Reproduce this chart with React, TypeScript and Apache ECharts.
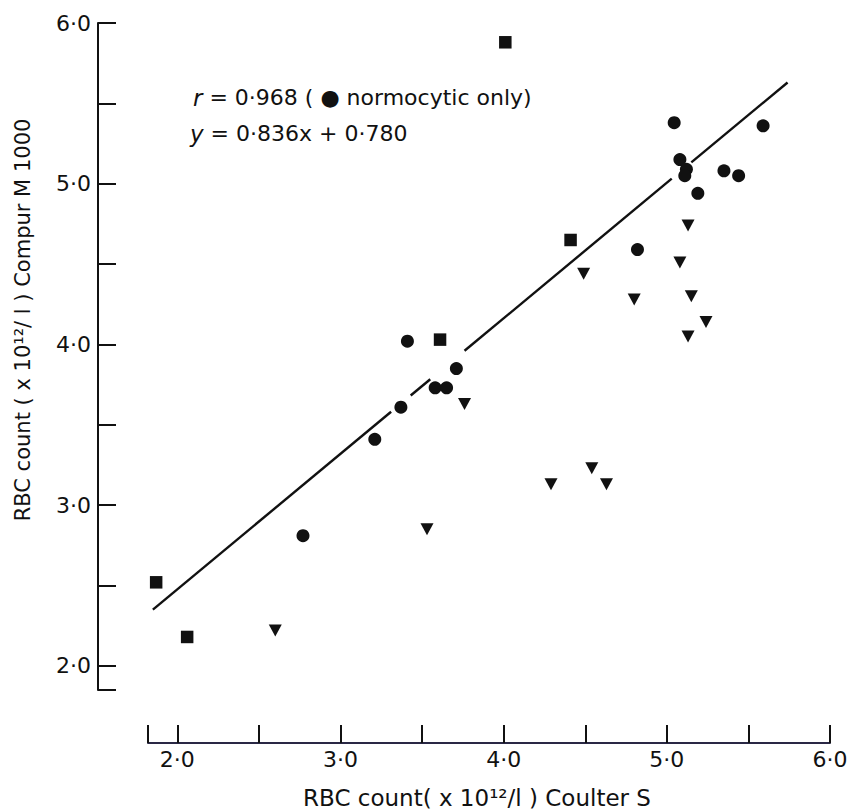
import React, { useEffect, useRef } from "react";
import * as echarts from "echarts";

// Axis ticks / labels (value units)
const xTickValues = [1.82, 2, 2.5, 3, 3.5, 4, 4.5, 5, 5.5, 6];
const yTickValues = [1.85, 2, 2.5, 3, 3.5, 4, 4.5, 5, 5.5, 6];
const xLabelValues = [2, 3, 4, 5, 6];
const yLabelValues = [2, 3, 4, 5, 6];

// Data points: [Coulter S, Compur M 1000]
const normocytic = [
  [2.77, 2.81],
  [3.21, 3.41],
  [3.37, 3.61],
  [3.41, 4.02],
  [3.58, 3.73],
  [3.65, 3.73],
  [3.71, 3.85],
  [4.82, 4.59],
  [5.045, 5.38],
  [5.08, 5.15],
  [5.12, 5.09],
  [5.11, 5.05],
  [5.19, 4.94],
  [5.35, 5.08],
  [5.44, 5.05],
  [5.59, 5.36],
];
const squares = [
  [1.87, 2.52],
  [2.06, 2.18],
  [3.61, 4.03],
  [4.01, 5.88],
  [4.41, 4.65],
];
const triangles = [
  [2.6, 2.22],
  [3.53, 2.85],
  [3.76, 3.63],
  [4.29, 3.13],
  [4.54, 3.23],
  [4.63, 3.13],
  [4.49, 4.44],
  [4.8, 4.28],
  [5.08, 4.51],
  [5.13, 4.74],
  [5.15, 4.3],
  [5.24, 4.14],
  [5.13, 4.05],
];

// Regression line as drawn (ends) and the drawn pieces (gaps at markers)
const fitLineEnds = [
  [1.85, 2.35],
  [5.74, 5.63],
];
const fitLinePieces = [
  [1.85, 3.31],
  [3.43, 3.55],
  [3.76, 5.03],
  [5.15, 5.74],
];

const FONT = "DejaVu Sans";
const INK = "#111111";

const fmt = (v: number) => v.toFixed(1).replace(".", "\u00b7");
const fitY = (x: number) => {
  const [[x0, y0], [x1, y1]] = fitLineEnds;
  return y0 + ((x - x0) * (y1 - y0)) / (x1 - x0);
};

export default function App() {
  const ref = useRef<HTMLDivElement>(null);
  useEffect(() => {
    document.body.style.margin = "0";
    const chart = echarts.init(ref.current!, null, { renderer: "svg" });
    const lineSeries = fitLinePieces.map((p) => ({
      type: "line",
      data: [
        [p[0], fitY(p[0])],
        [p[1], fitY(p[1])],
      ],
      symbol: "none",
      lineStyle: { color: INK, width: 2.4 },
      z: 1,
    }));
    chart.setOption({
      animation: false,
      backgroundColor: "#ffffff",
      grid: { left: 148, top: 23, width: 682, height: 667 },
      xAxis: {
        type: "value",
        min: 1.82,
        max: 6.0,
        position: "bottom",
        offset: 53,
        axisLine: { show: true, lineStyle: { color: "#2a2845", width: 2 } },
        axisTick: {
          show: true,
          inside: true,
          length: 18,
          customValues: xTickValues,
          lineStyle: { color: INK, width: 2 },
        },
        axisLabel: {
          customValues: xLabelValues,
          formatter: fmt,
          fontFamily: FONT,
          fontSize: 22,
          color: INK,
          margin: 5,
        },
        splitLine: { show: false },
      },
      yAxis: {
        type: "value",
        min: 1.85,
        max: 6.0,
        position: "left",
        offset: 50,
        axisLine: { show: true, lineStyle: { color: INK, width: 2 } },
        axisTick: {
          show: true,
          inside: true,
          length: 18,
          customValues: yTickValues,
          lineStyle: { color: INK, width: 2 },
        },
        axisLabel: {
          customValues: yLabelValues,
          formatter: fmt,
          fontFamily: FONT,
          fontSize: 22,
          color: INK,
          margin: 7,
        },
        splitLine: { show: false },
      },
      series: [
        ...lineSeries,
        {
          type: "scatter",
          data: normocytic,
          symbol: "circle",
          symbolSize: 13,
          itemStyle: { color: INK, opacity: 1 },
          z: 3,
        },
        {
          type: "scatter",
          data: squares,
          symbol: "rect",
          symbolSize: 12.5,
          itemStyle: { color: INK, opacity: 1 },
          z: 3,
        },
        {
          type: "scatter",
          data: triangles,
          symbol: "triangle",
          symbolRotate: 180,
          symbolSize: [13, 12],
          itemStyle: { color: INK, opacity: 1 },
          z: 3,
        },
      ],
      graphic: [
        {
          type: "text",
          left: 193,
          top: 86,
          style: {
            text: "{i|r} = 0\u00b7968 ( \u25cf normocytic only)",
            fontFamily: FONT,
            fontSize: 22,
            fill: INK,
            rich: { i: { fontStyle: "italic", fontFamily: FONT, fontSize: 23, fill: INK } },
          },
        },
        {
          type: "text",
          left: 190,
          top: 122,
          style: {
            text: "{i|y} = 0\u00b7836x + 0\u00b7780",
            fontFamily: FONT,
            fontSize: 22,
            fill: INK,
            rich: { i: { fontStyle: "italic", fontFamily: FONT, fontSize: 23, fill: INK } },
          },
        },
        {
          type: "text",
          x: 477,
          y: 798,
          style: {
            text: "RBC count( x 10\u00b9\u00b2/l ) Coulter S",
            fontFamily: FONT,
            fontSize: 23,
            fill: INK,
            align: "center",
            verticalAlign: "middle",
          },
        },
        {
          type: "text",
          x: 23,
          y: 320,
          rotation: Math.PI / 2,
          style: {
            text: "RBC count ( x 10\u00b9\u00b2/ l ) Compur M 1000",
            fontFamily: FONT,
            fontSize: 21,
            fill: INK,
            align: "center",
            verticalAlign: "middle",
          },
        },
      ],
    });
    return () => chart.dispose();
  }, []);
  return <div ref={ref} style={{ width: 863, height: 812 }} />;
}
